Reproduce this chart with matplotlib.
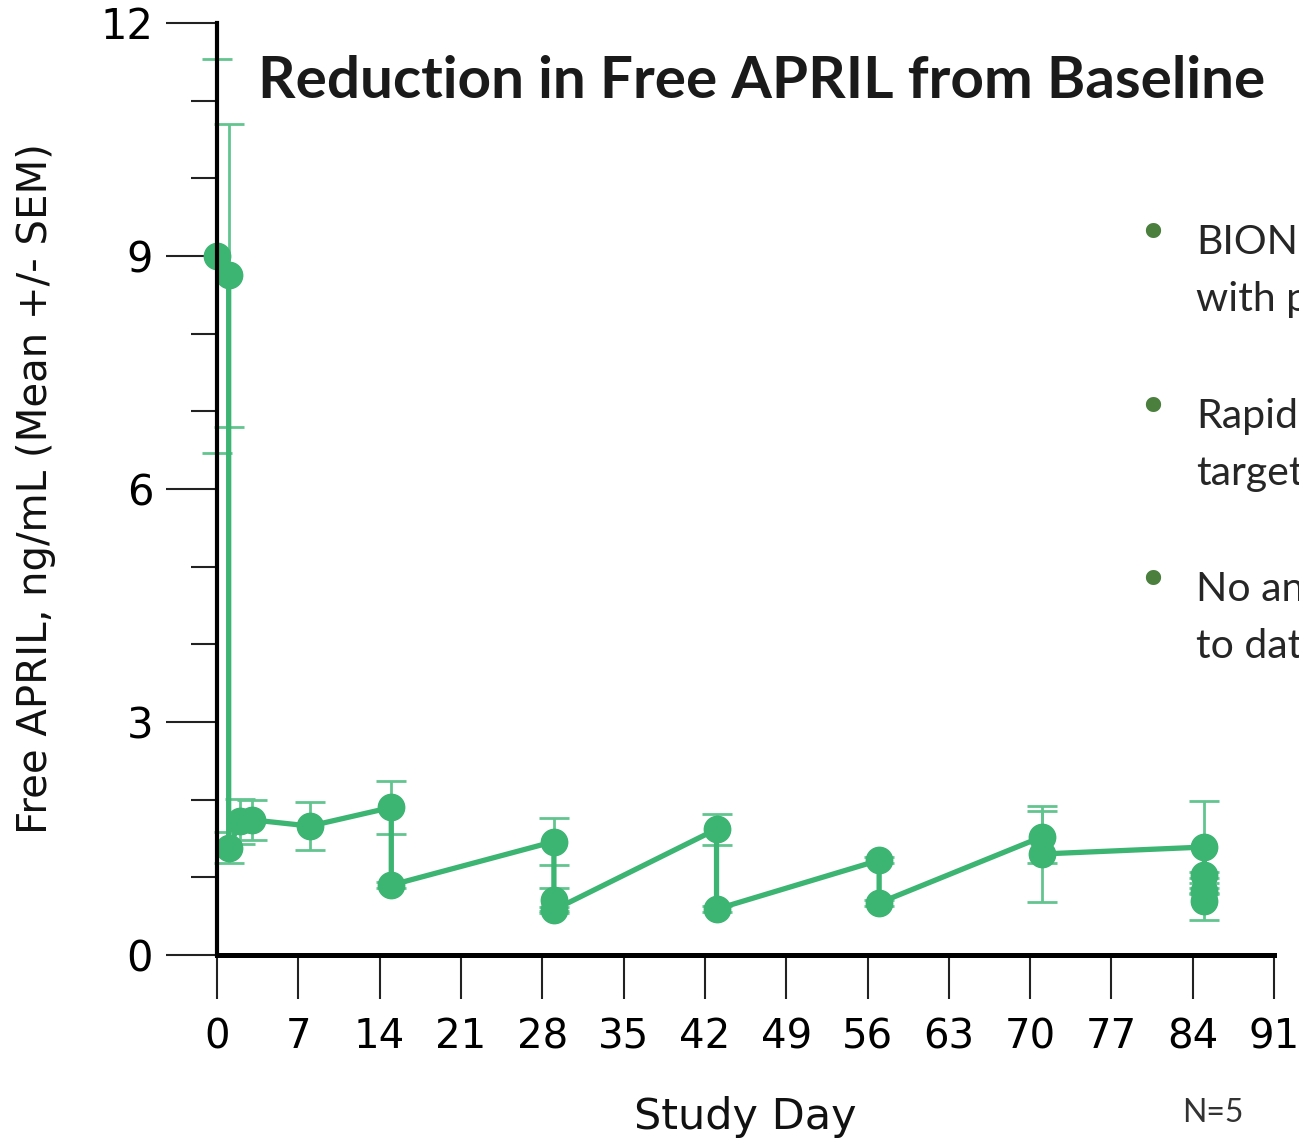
import matplotlib
matplotlib.use("Agg")
import matplotlib.pyplot as plt
from matplotlib.ticker import FixedLocator

# free APRIL, mean and SEM, in sampling order (pre/post dose on dosing days)
study_day = [0, 1, 1, 2, 3, 8, 15, 15, 29, 29, 29, 43, 43, 57, 57, 71, 71, 85, 85, 85, 85]
april_mean = [9.0, 8.75, 1.38, 1.72, 1.74, 1.66, 1.90, 0.90, 1.46, 0.71, 0.58,
              1.62, 0.59, 1.22, 0.67, 1.52, 1.30, 1.39, 1.03, 0.82, 0.69]
april_sem = [2.54, 1.95, 0.20, 0.29, 0.26, 0.31, 0.34, 0.04, 0.30, 0.15, 0.04,
             0.20, 0.04, 0.04, 0.04, 0.33, 0.62, 0.59, 0.04, 0.04, 0.24]

x_ticks = list(range(0, 92, 7))
y_major = [0, 3, 6, 9, 12]
y_minor = [1, 2, 4, 5, 7, 8, 10, 11]

bullet_lines = [["BION-1301", "with p"], ["Rapid", "target"], ["No an", "to date"]]

green = "#3cb472"
err_green = "#62c48e"

fig = plt.figure(figsize=(12.99, 11.43), dpi=100)
ax = fig.add_axes([0.1671, 0.1645, 0.8137, 0.8154])

eb = ax.errorbar(study_day, april_mean, yerr=april_sem, fmt="none", ecolor=err_green,
                 elinewidth=2, capsize=11, capthick=2, zorder=1.9)
for part in eb.lines:
    for a in (part if isinstance(part, tuple) else [part]):
        if a is not None:
            a.set_clip_on(False)

ax.plot(study_day, april_mean, color=green, lw=3.8, marker="o", ms=19,
        clip_on=False, zorder=2)

ax.set_xlim(0, 91)
ax.set_ylim(0, 12)
ax.set_xticks(x_ticks)
ax.set_yticks(y_major)
ax.yaxis.set_minor_locator(FixedLocator(y_minor))

for s in ["top", "right"]:
    ax.spines[s].set_visible(False)
ax.spines["left"].set_linewidth(3)
ax.spines["bottom"].set_linewidth(3.6)
ax.spines["left"].set_zorder(2.5)

ax.tick_params(axis="y", which="major", length=37, width=1.5, color="#222222",
               pad=9, labelsize=30)
ax.tick_params(axis="y", which="minor", length=19, width=1.5, color="#222222")
ax.tick_params(axis="x", length=32, width=1.5, color="#222222", pad=13, labelsize=29)

ax.set_xlabel("Study Day", fontsize=31, labelpad=28, color="#111111")
ax.set_ylabel("Free APRIL, ng/mL (Mean +/- SEM)", fontsize=29, labelpad=32, color="#111111")

fig.text(258 / 1299, 1 - 98 / 1143, "Reduction in Free APRIL from Baseline",
         fontsize=42, fontweight="bold", family="Lato", color="#1a1a1a", va="baseline")

bullet_y = [235, 409, 582]
for by, lines in zip(bullet_y, bullet_lines):
    fig.text(1153 / 1299, 1 - by / 1143, "\u2022", fontsize=38, color="#4a7f3e",
             ha="center", va="center")
    for i, line in enumerate(lines):
        fig.text(1196 / 1299, 1 - (by + 19 + 57 * i) / 1143, line, fontsize=29.5,
                 family="Lato", color="#262626", va="baseline")

fig.text(1182 / 1299, 1 - 1122 / 1143, "N=5", fontsize=23, family="Lato",
         color="#333333", va="baseline")

fig.savefig("out.png", dpi=100)
